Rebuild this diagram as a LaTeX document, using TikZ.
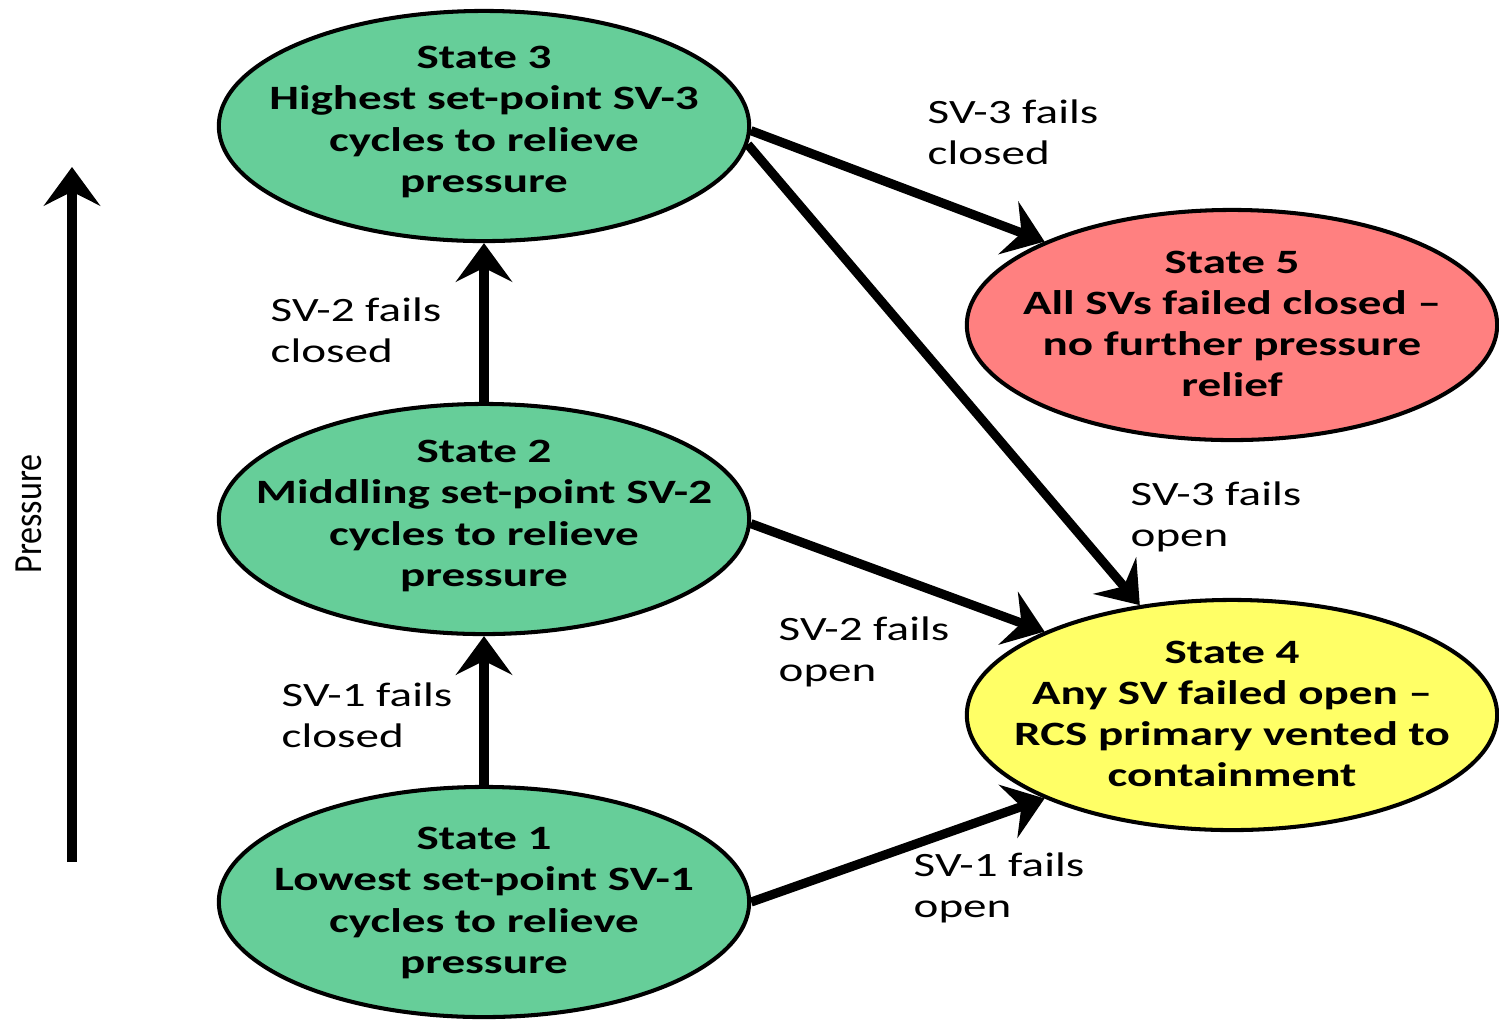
\documentclass[tikz,border=0pt]{standalone}
\usepackage{fontspec}
\setmainfont{Carlito}[FakeStretch=1.38]
\newfontfamily\plainfont{Carlito}
\usetikzlibrary{shapes.geometric,arrows.meta}
\definecolor{stategreen}{RGB}{102,206,153}
\definecolor{statered}{RGB}{255,128,128}
\definecolor{stateyellow}{RGB}{255,255,102}
\begin{document}
\begin{tikzpicture}[x=0.01cm,y=-0.01cm,
  state/.style={ellipse, draw=black, line width=1.15pt,
    minimum width=5.30cm, minimum height=2.30cm, inner sep=0pt},
  statetext/.style={align=center, inner sep=0pt,
    font=\bfseries\fontsize{9.7pt}{11.7pt}\selectfont},
  edgelabel/.style={align=left, anchor=north west, inner sep=0pt,
    font=\fontsize{9.7pt}{11.7pt}\selectfont},
  flow/.style={line width=2.6pt,
    -{Stealth[length=11pt,width=16pt,inset=4pt]}},
]
\useasboundingbox (0,0) rectangle (1499,1020);

% pressure axis
\coordinate (pbase) at (72,862);
\coordinate (ptop) at (72,167);
\draw[flow] (pbase) -- (ptop);
\node[rotate=90, inner sep=0pt, font=\plainfont\fontsize{9.7pt}{11.7pt}\selectfont]
  (plabel) at (29,514) {\scalebox{1}[1.17]{Pressure}};

% states
\node[state, fill=stategreen] (s3) at (484,126) {};
\node[statetext] (s3t) at (484,122) {State 3\\Highest set-point SV-3\\cycles to relieve\\pressure};
\node[state, fill=stategreen] (s2) at (484,519) {};
\node[statetext] (s2t) at (484,516) {State 2\\Middling set-point SV-2\\cycles to relieve\\pressure};
\node[state, fill=stategreen] (s1) at (484,902) {};
\node[statetext] (s1t) at (484,903) {State 1\\Lowest set-point SV-1\\cycles to relieve\\pressure};
\node[state, fill=statered] (s5) at (1232,325) {};
\node[statetext] (s5t) at (1232,324) {State 5\\All SVs failed closed --\\no further pressure\\relief};
\node[state, fill=stateyellow] (s4) at (1232,715) {};
\node[statetext] (s4t) at (1232,714) {State 4\\Any SV failed open --\\RCS primary vented to\\containment};

% transitions
\draw[flow] (s1) -- (s2);
\draw[flow] (s2) -- (s3);
\draw[flow] (s3.-1) -- (s5.156);
\draw[flow] (s3.-4) -- (s4.130);
\draw[flow] (s2.-1) -- (s4.156);
\draw[flow] (s1.east) -- (s4.204);

% transition labels
\node[edgelabel] (l35) at (927,99) {SV-3 fails\\closed};
\node[edgelabel] (l23) at (270,297) {SV-2 fails\\closed};
\node[edgelabel] (l34) at (1130,481) {SV-3 fails\\open};
\node[edgelabel] (l24) at (778,616) {SV-2 fails\\open};
\node[edgelabel] (l12) at (281,682) {SV-1 fails\\closed};
\node[edgelabel] (l14) at (913,852) {SV-1 fails\\open};
\end{tikzpicture}
\end{document}
